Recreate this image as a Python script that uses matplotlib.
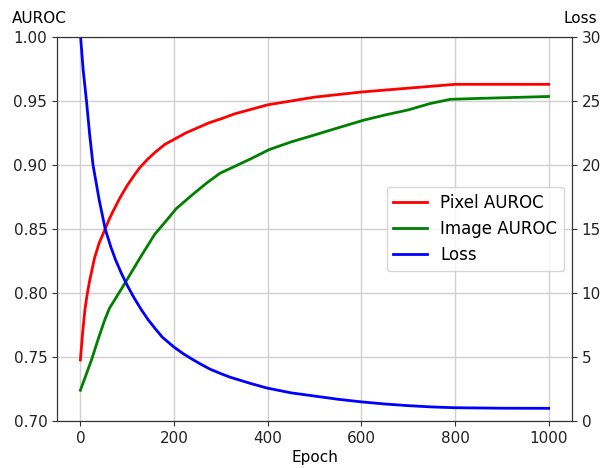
import numpy as np
import matplotlib
matplotlib.use('Agg')
import matplotlib.pyplot as plt

# Values
pixel_epochs = [0, 5, 10, 15, 20, 30, 40, 53, 62, 70, 84, 100, 115, 127, 145, 160,
                180, 200, 225, 250, 275, 300, 330, 365, 400, 450, 500, 600, 700,
                800, 900, 1000]
pixel_auroc = [0.7477, 0.770, 0.788, 0.800, 0.810, 0.827, 0.839, 0.850, 0.858, 0.864,
               0.874, 0.884, 0.892, 0.898, 0.905, 0.910, 0.916, 0.920, 0.925, 0.929,
               0.933, 0.936, 0.940, 0.9435, 0.947, 0.950, 0.953, 0.957, 0.960,
               0.963, 0.963, 0.963]

image_epochs = [0, 12, 24, 38, 52, 62, 73, 95, 112, 130, 159, 180, 205, 240, 270, 298,
                330, 365, 403, 450, 496, 550, 605, 650, 700, 747, 790, 850, 900, 1000]
image_auroc = [0.724, 0.736, 0.748, 0.764, 0.779, 0.788, 0.7945, 0.8076, 0.818, 0.829,
               0.846, 0.855, 0.866, 0.877, 0.886, 0.8935, 0.899, 0.905, 0.912, 0.918,
               0.923, 0.929, 0.935, 0.939, 0.943, 0.948, 0.9513, 0.952, 0.9525, 0.9535]

loss_epochs = [0, 6, 13, 20, 27, 40, 53, 65, 75, 88, 100, 115, 130, 145, 159, 175,
               199, 220, 240, 260, 277, 300, 320, 362, 398, 450, 500, 550, 599, 650,
               700, 750, 797, 900, 1000]
loss = [30.2, 27.4, 25.0, 22.3, 20.0, 17.3, 15.0, 13.6, 12.6, 11.5, 10.6, 9.6, 8.7,
        7.9, 7.25, 6.55, 5.8, 5.25, 4.8, 4.38, 4.05, 3.7, 3.42, 2.95, 2.58, 2.2, 1.95,
        1.7, 1.5, 1.33, 1.2, 1.1, 1.04, 1.0, 0.99]

fig, ax1 = plt.subplots(figsize=(6.03, 4.68), dpi=100)
fig.subplots_adjust(left=0.0945, right=0.9486, top=0.921, bottom=0.1004)

l1, = ax1.plot(pixel_epochs, pixel_auroc, color='red', lw=2, label='Pixel AUROC')
l2, = ax1.plot(image_epochs, image_auroc, color='green', lw=2, label='Image AUROC')
ax1.set_ylim(0.70, 1.00)
ax1.set_xlim(-50, 1050)
ax1.set_xticks([0, 200, 400, 600, 800, 1000])
yt = np.arange(0.70, 1.001, 0.05)
ax1.set_yticks(yt)
ax1.set_yticklabels(['%.2f' % v for v in yt])
ax1.grid(True, color='#d0d0d0', lw=1)
ax1.set_xlabel('Epoch', fontsize=11, labelpad=3)
ax1.set_ylabel('AUROC', rotation=0, fontsize=11, va='bottom', ha='center')
ax1.yaxis.set_label_coords(-0.035, 1.028)

ax2 = ax1.twinx()
l3, = ax2.plot(loss_epochs, loss, color='blue', lw=2, label='Loss')
ax2.set_ylim(0, 30)
ax2.set_yticks(range(0, 31, 5))
ax2.set_ylabel('Loss', rotation=0, fontsize=11, va='bottom', ha='center')
ax2.yaxis.set_label_coords(1.016, 1.028)

for a in (ax1, ax2):
    a.tick_params(labelsize=11, color='#333333', labelcolor='#222222')
    for s in a.spines.values():
        s.set_color('#333333')

ax2.legend(handles=[l1, l2, l3], loc='center right', fontsize=12)

plt.savefig('out.png')
